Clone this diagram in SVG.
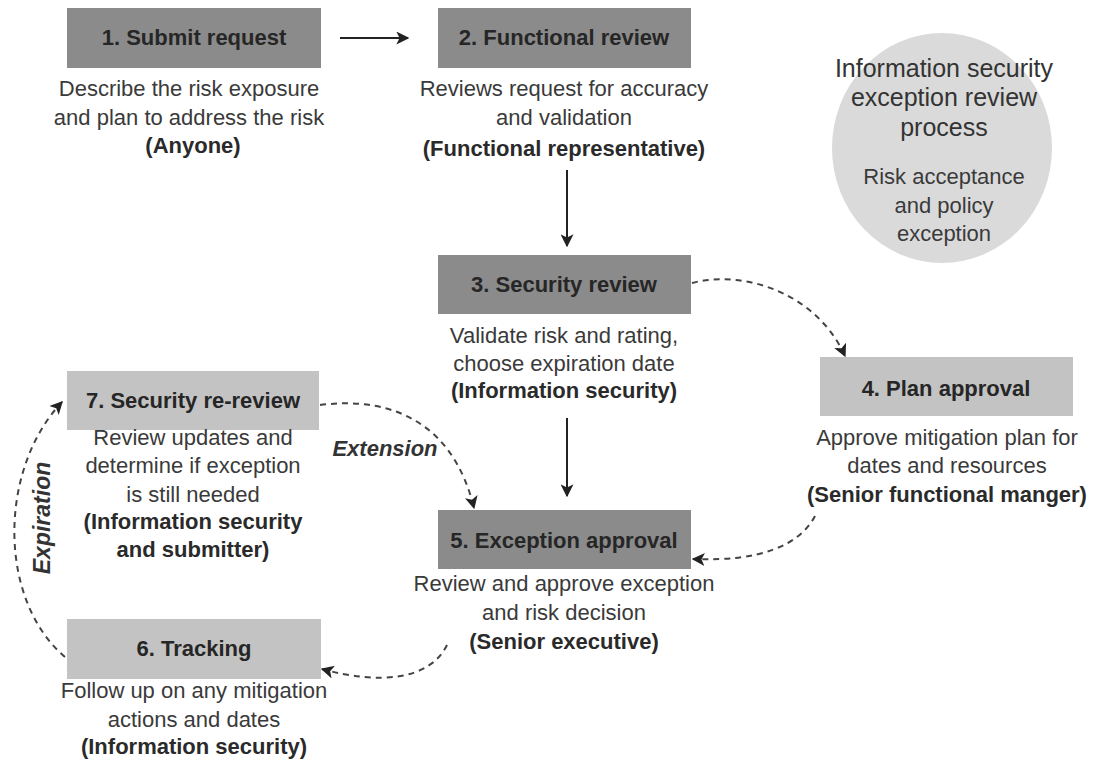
<svg xmlns="http://www.w3.org/2000/svg" width="1096" height="773" viewBox="0 0 1096 773">
<style>
.dark{fill:#8b8b8b}
.light{fill:#c3c3c3}
.title{font-family:"Liberation Sans",Arial,sans-serif;font-weight:bold;font-size:22px;fill:#262626;text-anchor:middle}
.desc{font-family:"Liberation Sans",Arial,sans-serif;font-size:22px;fill:#3a3a3a;text-anchor:middle}
.role{font-family:"Liberation Sans",Arial,sans-serif;font-weight:bold;font-size:22px;fill:#2a2a2a;text-anchor:middle}
.big{font-family:"Liberation Sans",Arial,sans-serif;font-size:25px;fill:#333;text-anchor:middle}
.lbl{font-family:"Liberation Sans",Arial,sans-serif;font-weight:bold;font-style:italic;font-size:22px;fill:#333;text-anchor:middle}
.solid{stroke:#222;stroke-width:2;fill:none}
.dash{stroke:#444;stroke-width:2;fill:none;stroke-dasharray:6 5}
</style>
<defs>
<marker id="ah" viewBox="0 0 10 10" refX="9" refY="5" markerWidth="6.5" markerHeight="6.5" orient="auto" markerUnits="strokeWidth">
<path d="M0,0 L10,5 L0,10 L2.5,5 z" fill="#222"/>
</marker>
</defs>
<rect width="1096" height="773" fill="#fff"/>
<g id="circle">
<ellipse cx="942" cy="148" rx="110" ry="115" fill="#dadada"/>
<text class="big" x="944" y="77">Information security</text>
<text class="big" x="944" y="106">exception review</text>
<text class="big" x="944" y="136">process</text>
<text class="desc" x="944" y="184">Risk acceptance</text>
<text class="desc" x="944" y="213">and policy</text>
<text class="desc" x="944" y="241">exception</text>
</g>
<g id="node1">
<rect class="dark" x="67" y="8" width="254" height="60"/>
<text class="title" x="194" y="45">1. Submit request</text>
<text class="desc" x="189" y="96">Describe the risk exposure</text>
<text class="desc" x="189" y="125">and plan to address the risk</text>
<text class="role" x="193" y="153">(Anyone)</text>
</g>
<g id="node2">
<rect class="dark" x="438" y="8" width="253" height="60"/>
<text class="title" x="564" y="45">2. Functional review</text>
<text class="desc" x="564" y="96">Reviews request for accuracy</text>
<text class="desc" x="564" y="125">and validation</text>
<text class="role" x="564" y="156">(Functional representative)</text>
</g>
<g id="node3">
<rect class="dark" x="438" y="255" width="253" height="59"/>
<text class="title" x="564" y="292">3. Security review</text>
<text class="desc" x="564" y="343">Validate risk and rating,</text>
<text class="desc" x="564" y="371">choose expiration date</text>
<text class="role" x="564" y="398">(Information security)</text>
</g>
<g id="node4">
<rect class="light" x="820" y="357" width="253" height="59"/>
<text class="title" x="946" y="396">4. Plan approval</text>
<text class="desc" x="947" y="445">Approve mitigation plan for</text>
<text class="desc" x="947" y="473">dates and resources</text>
<text class="role" x="947" y="502">(Senior functional manger)</text>
</g>
<g id="node5">
<rect class="dark" x="438" y="510" width="253" height="59"/>
<text class="title" x="564" y="548">5. Exception approval</text>
<text class="desc" x="564" y="591">Review and approve exception</text>
<text class="desc" x="564" y="620">and risk decision</text>
<text class="role" x="564" y="649">(Senior executive)</text>
</g>
<g id="node6">
<rect class="light" x="67" y="619" width="254" height="60"/>
<text class="title" x="194" y="656">6. Tracking</text>
<text class="desc" x="194" y="698">Follow up on any mitigation</text>
<text class="desc" x="194" y="727">actions and dates</text>
<text class="role" x="194" y="754">(Information security)</text>
</g>
<g id="node7">
<rect class="light" x="67" y="371" width="252" height="59"/>
<text class="title" x="193" y="408">7. Security re-review</text>
<text class="desc" x="193" y="445">Review updates and</text>
<text class="desc" x="193" y="473">determine if exception</text>
<text class="desc" x="193" y="502">is still needed</text>
<text class="role" x="193" y="529">(Information security</text>
<text class="role" x="193" y="557">and submitter)</text>
</g>
<g id="connectors">
<line class="solid" x1="340" y1="38" x2="408" y2="38" marker-end="url(#ah)"/>
<line class="solid" x1="567" y1="170" x2="567" y2="246" marker-end="url(#ah)"/>
<line class="solid" x1="567" y1="418" x2="567" y2="496" marker-end="url(#ah)"/>
<path class="dash" d="M692 283 C740 270 815 290 845 356" marker-end="url(#ah)"/>
<path class="dash" d="M815 516 C800 545 760 562 693 559" marker-end="url(#ah)"/>
<path class="dash" d="M447 645 C430 680 380 685 322 669" marker-end="url(#ah)"/>
<path class="dash" d="M65 657 C-2 600 -2 470 62 402" marker-end="url(#ah)"/>
<path class="dash" d="M320 405 C400 395 455 430 474 508" marker-end="url(#ah)"/>
<text class="lbl" x="385" y="456">Extension</text>
<text class="lbl" style="font-size:23px" transform="translate(50 518) rotate(-90)">Expiration</text>
</g>
</svg>
